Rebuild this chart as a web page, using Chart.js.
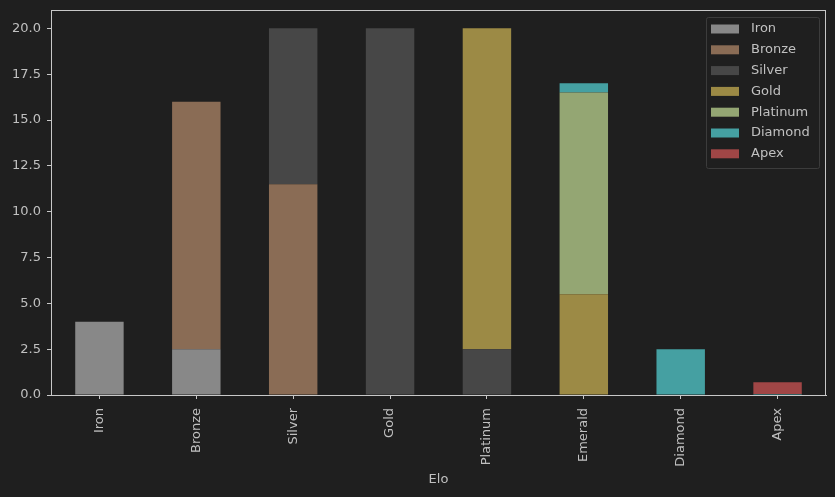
<!DOCTYPE html>
<html>
<head>
<meta charset="utf-8">
<script src="https://cdn.jsdelivr.net/npm/chart.js@4"></script>
<style>
  body { margin: 0; background: #1f1f1f; }
  canvas { display: block; }
</style>
</head>
<body>
<canvas id="myChart" width="835" height="497"></canvas>
<script>
  // categories on the x axis
  const elos = ['Iron', 'Bronze', 'Silver', 'Gold', 'Platinum', 'Emerald', 'Diamond', 'Apex'];

  // one series per rank, stacked
  const ironV     = [4, 2.5, 0, 0, 0, 0, 0, 0];
  const bronzeV   = [0, 13.5, 11.5, 0, 0, 0, 0, 0];
  const silverV   = [0, 0, 8.5, 20, 2.5, 0, 0, 0];
  const goldV     = [0, 0, 0, 0, 17.5, 5.5, 0, 0];
  const platinumV = [0, 0, 0, 0, 0, 11, 0, 0];
  const diamondV  = [0, 0, 0, 0, 0, 0.5, 2.5, 0.05];
  const apexV     = [0, 0, 0, 0, 0, 0, 0, 0.65];

  const yTicks = [0, 2.5, 5, 7.5, 10, 12.5, 15, 17.5, 20];

  const axisColor = '#c8c8c8';
  const textColor = '#c0c0c0';

  Chart.defaults.font.family = 'DejaVu Sans';
  Chart.defaults.font.size = 13;
  Chart.defaults.color = textColor;

  // frame round the plot area + legend box inside it
  const framePlugin = {
    id: 'frame',
    afterDraw(chart) {
      const a = chart.chartArea;
      const c = chart.ctx;
      c.save();
      c.strokeStyle = axisColor;
      c.lineWidth = 1;
      c.strokeRect(a.left + 0.5, a.top + 0.5, a.right - a.left - 1, a.bottom - a.top);

      // legend
      const sets = chart.data.datasets;
      const bx = 706.5, by = 17.5, bw = 113, bh = 151;
      c.fillStyle = '#1f1f1f';
      c.strokeStyle = '#3c3c3c';
      c.beginPath();
      c.roundRect(bx, by, bw, bh, 2);
      c.fill();
      c.stroke();
      c.font = '13px "DejaVu Sans"';
      c.textBaseline = 'middle';
      sets.forEach((ds, i) => {
        const cy = 29 + i * 20.8;
        c.fillStyle = ds.backgroundColor;
        c.fillRect(711, cy - 4.5, 28, 9);
        c.fillStyle = textColor;
        c.fillText(ds.label, 751, cy);
      });
      c.restore();
    }
  };

  function bar(label, data, color) {
    return { label: label, data: data.map(v => v || null), backgroundColor: color,
             borderWidth: 0, inflateAmount: 0,
             barPercentage: 0.5, categoryPercentage: 1.0 };
  }

  const ctx = document.getElementById('myChart').getContext('2d');
  const myBarChart = new Chart(ctx, {
    type: 'bar',
    data: {
      labels: elos,
      datasets: [
        bar('Iron', ironV, '#888888'),
        bar('Bronze', bronzeV, '#8a6c55'),
        bar('Silver', silverV, '#474747'),
        bar('Gold', goldV, '#9c8a45'),
        bar('Platinum', platinumV, '#94a673'),
        bar('Diamond', diamondV, '#45a0a2'),
        bar('Apex', apexV, '#a04646')
      ]
    },
    options: {
      responsive: false,
      animation: false,
      devicePixelRatio: 1,
      layout: { padding: { top: 10, right: 9, bottom: 0, left: 0 } },
      plugins: { legend: { display: false }, tooltip: { enabled: false } },
      scales: {
        x: {
          stacked: true,
          offset: true,
          grid: { display: true, drawOnChartArea: false, color: axisColor, tickLength: 4, offset: false },
          border: { display: true, color: axisColor },
          ticks: { maxRotation: 90, minRotation: 90, padding: 9, color: textColor, autoSkip: false },
          title: { display: true, text: 'Elo', color: textColor, padding: { top: 4, bottom: 10 } },
          afterFit: function(scale) {
            scale.height = 102;
            scale.paddingLeft = 0;
            scale.paddingRight = 0;
          }
        },
        y: {
          stacked: true,
          min: 0,
          max: 21,
          grid: { display: true, drawOnChartArea: false, color: axisColor, tickLength: 4 },
          border: { display: true, color: axisColor },
          ticks: {
            padding: 6,
            color: textColor,
            callback: function(value) { return value.toFixed(1); }
          },
          afterBuildTicks: function(scale) { scale.ticks = yTicks.map(v => ({ value: v })); },
          afterFit: function(scale) {
            scale.width = 51;
            scale.paddingTop = 0;
            scale.paddingBottom = 0;
          }
        }
      }
    },
    plugins: [framePlugin]
  });
</script>
</body>
</html>
